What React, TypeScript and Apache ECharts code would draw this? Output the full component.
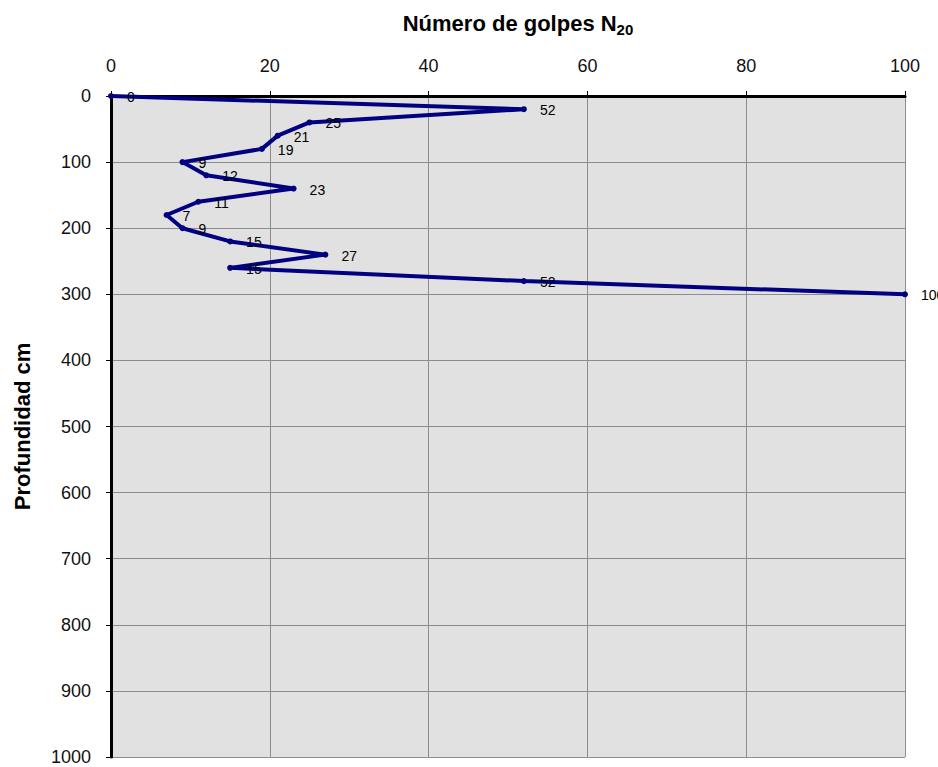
import React, { useEffect, useRef } from "react";
import * as echarts from "echarts";

// Penetration test: blows per 20 cm vs. depth
const depthsCm = [0, 20, 40, 60, 80, 100, 120, 140, 160, 180, 200, 220, 240, 260, 280, 300];
const blowsN20 = [0, 52, 25, 21, 19, 9, 12, 23, 11, 7, 9, 15, 27, 15, 52, 100];

const xTicks = { min: 0, max: 100, interval: 20 };
const yTicks = { min: 0, max: 1000, interval: 100 };

const FONT = "'Liberation Sans', Arial, sans-serif";

export default function App() {
  const ref = useRef<HTMLDivElement>(null);

  useEffect(() => {
    if (!ref.current) return;
    const chart = echarts.init(ref.current, undefined, { renderer: "svg" });
    const points = blowsN20.map((n, i) => [n, depthsCm[i]]);
    chart.setOption({
      animation: false,
      backgroundColor: "#ffffff",
      textStyle: { fontFamily: FONT },
      title: {
        text: "{t|Número de golpes N}{s|20}",
        left: 513,
        top: 5,
        textAlign: "center",
        textStyle: {
          rich: {
            t: { fontFamily: FONT, fontSize: 22, fontWeight: "bold", color: "#000" },
            s: { fontFamily: FONT, fontSize: 15, fontWeight: "bold", color: "#000", padding: [12, 0, 0, 0] },
          },
        },
      },
      grid: {
        left: 111,
        top: 96,
        right: 33,
        bottom: 10,
        show: true,
        backgroundColor: "#e1e1e1",
        borderWidth: 0,
      },
      xAxis: {
        type: "value",
        position: "top",
        min: xTicks.min,
        max: xTicks.max,
        interval: xTicks.interval,
        axisLine: { show: true, onZero: false, lineStyle: { color: "#000", width: 3 } },
        axisTick: { show: true, length: 5, lineStyle: { color: "#000", width: 1 } },
        axisLabel: { fontSize: 18, color: "#111", margin: 21, fontFamily: FONT },
        splitLine: { show: true, lineStyle: { color: "#8c8c8c", width: 1 } },
      },
      yAxis: {
        type: "value",
        inverse: true,
        min: yTicks.min,
        max: yTicks.max,
        interval: yTicks.interval,
        name: "Profundidad cm",
        nameLocation: "middle",
        nameGap: 78,
        nameRotate: 90,
        nameTextStyle: { fontSize: 22, fontWeight: "bold", color: "#000", fontFamily: FONT },
        axisLine: { show: true, onZero: false, lineStyle: { color: "#000", width: 3 } },
        axisTick: { show: true, length: 5, lineStyle: { color: "#000", width: 1 } },
        axisLabel: {
          fontSize: 18,
          color: "#111",
          margin: 20,
          fontFamily: FONT,
          formatter: (v: number) => String(v),
        },
        splitLine: { show: true, lineStyle: { color: "#8c8c8c", width: 1 } },
      },
      series: [
        {
          type: "line",
          data: points,
          symbol: "circle",
          symbolSize: 6,
          lineStyle: { color: "#000080", width: 4 },
          itemStyle: { color: "#000080" },
          label: {
            show: true,
            position: "right",
            distance: 13,
            offset: [0, 1],
            fontSize: 14,
            color: "#000",
            fontFamily: FONT,
            formatter: (p: any) => String(p.value[0]),
          },
        },
      ],
    });
    return () => chart.dispose();
  }, []);

  return (
    <div
      ref={ref}
      style={{ position: "absolute", left: 0, top: 0, width: 938, height: 767 }}
    />
  );
}
